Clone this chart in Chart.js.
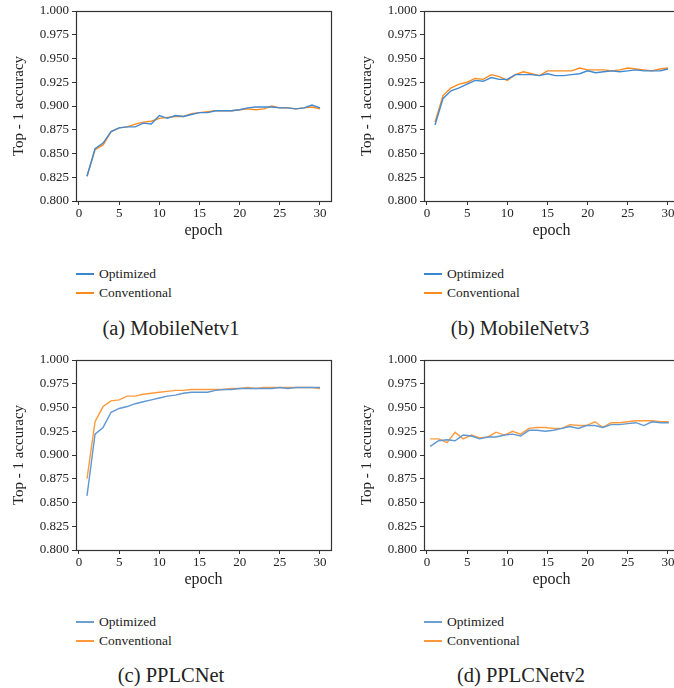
<!DOCTYPE html>
<html>
<head>
<meta charset="utf-8">
<script src="https://cdn.jsdelivr.net/npm/chart.js@4"></script>
<style>
  html, body { margin: 0; padding: 0; background: #fff; }
  body { width: 674px; height: 688px; position: relative; overflow: hidden; font-family: "Liberation Serif", serif; color: #222; }
  .panel { position: absolute; width: 337px; height: 245px; }
  .legend { position: absolute; font-size: 13.5px; line-height: 19px; }
  .legend div { position: relative; padding-left: 23px; white-space: nowrap; }
  .legend span { position: absolute; left: 0; top: 9px; width: 18px; height: 1.5px; }
  .caption { position: absolute; width: 342px; text-align: center; font-size: 20.5px; line-height: 24px; white-space: nowrap; }
</style>
</head>
<body>

<div class="panel" style="left:0;top:0"><canvas id="chart-a" width="337" height="245"></canvas></div>
<div class="panel" style="left:348px;top:0"><canvas id="chart-b" width="337" height="245"></canvas></div>
<div class="panel" style="left:0;top:349px"><canvas id="chart-c" width="337" height="245"></canvas></div>
<div class="panel" style="left:348px;top:349px"><canvas id="chart-d" width="337" height="245"></canvas></div>

<div class="legend" style="left:76px;top:264px"><div><span style="background:#3a86d0"></span>Optimized</div><div><span style="background:#ff8a1c"></span>Conventional</div></div>
<div class="legend" style="left:424px;top:264px"><div><span style="background:#3a86d0"></span>Optimized</div><div><span style="background:#ff8a1c"></span>Conventional</div></div>
<div class="legend" style="left:76px;top:612px"><div><span style="background:#6a9fd0"></span>Optimized</div><div><span style="background:#ff9a3c"></span>Conventional</div></div>
<div class="legend" style="left:424px;top:612px"><div><span style="background:#6a9fd0"></span>Optimized</div><div><span style="background:#ff9a3c"></span>Conventional</div></div>

<div class="caption" style="left:0;top:316px">(a) MobileNetv1</div>
<div class="caption" style="left:349px;top:316px">(b) MobileNetv3</div>
<div class="caption" style="left:0;top:663px">(c) PPLCNet</div>
<div class="caption" style="left:350px;top:663px">(d) PPLCNetv2</div>

<script>
const epochs = [1, 2, 3, 4, 5, 6, 7, 8, 9, 10, 11, 12, 13, 14, 15, 16, 17, 18, 19, 20, 21, 22, 23, 24, 25, 26, 27, 28, 29, 30];
const xTicks = [0, 5, 10, 15, 20, 25, 30];
const yTicks = [0.800, 0.825, 0.850, 0.875, 0.900, 0.925, 0.950, 0.975, 1.000];

// (a) MobileNetv1
const mv1Optimized    = [0.826, 0.855, 0.861, 0.873, 0.877, 0.878, 0.878, 0.882, 0.881, 0.890, 0.887, 0.890, 0.889, 0.891, 0.893, 0.893, 0.895, 0.895, 0.895, 0.896, 0.898, 0.899, 0.899, 0.899, 0.898, 0.898, 0.897, 0.898, 0.901, 0.898];
const mv1Conventional = [0.826, 0.854, 0.859, 0.873, 0.877, 0.878, 0.881, 0.883, 0.884, 0.887, 0.888, 0.889, 0.889, 0.892, 0.893, 0.894, 0.895, 0.895, 0.895, 0.896, 0.897, 0.896, 0.897, 0.900, 0.898, 0.898, 0.897, 0.898, 0.899, 0.897];

// (b) MobileNetv3
const mv3Optimized    = [0.880, 0.908, 0.916, 0.919, 0.923, 0.927, 0.926, 0.930, 0.928, 0.928, 0.933, 0.933, 0.933, 0.932, 0.934, 0.932, 0.932, 0.933, 0.934, 0.937, 0.935, 0.936, 0.937, 0.936, 0.937, 0.938, 0.937, 0.937, 0.937, 0.939];
const mv3Conventional = [0.883, 0.911, 0.919, 0.923, 0.925, 0.929, 0.928, 0.933, 0.931, 0.927, 0.933, 0.936, 0.934, 0.932, 0.937, 0.937, 0.937, 0.937, 0.940, 0.938, 0.938, 0.938, 0.937, 0.938, 0.940, 0.939, 0.938, 0.937, 0.939, 0.940];

// (c) PPLCNet
const lcnetOptimized    = [0.857, 0.922, 0.929, 0.945, 0.949, 0.951, 0.954, 0.956, 0.958, 0.960, 0.962, 0.963, 0.965, 0.966, 0.966, 0.966, 0.968, 0.969, 0.969, 0.970, 0.970, 0.970, 0.970, 0.970, 0.971, 0.970, 0.971, 0.971, 0.971, 0.971];
const lcnetConventional = [0.875, 0.935, 0.951, 0.957, 0.958, 0.962, 0.962, 0.964, 0.965, 0.966, 0.967, 0.968, 0.968, 0.969, 0.969, 0.969, 0.969, 0.969, 0.970, 0.970, 0.971, 0.970, 0.971, 0.971, 0.971, 0.971, 0.971, 0.971, 0.971, 0.970];

// (d) PPLCNetv2 (points sit slightly off the integer epochs in the figure)
const lcnet2Epochs       = [0.4, 1.45, 2.5, 3.5, 4.5, 5.55, 6.55, 7.6, 8.6, 9.65, 10.65, 11.65, 12.7, 13.7, 14.75, 15.75, 16.8, 17.8, 18.85, 19.85, 20.9, 21.9, 22.9, 23.95, 25.0, 26.0, 27.0, 28.0, 29.1, 30.1];
const lcnet2Optimized    = [0.909, 0.915, 0.916, 0.915, 0.921, 0.920, 0.917, 0.919, 0.919, 0.921, 0.922, 0.920, 0.926, 0.926, 0.925, 0.926, 0.928, 0.930, 0.928, 0.931, 0.931, 0.929, 0.932, 0.932, 0.933, 0.934, 0.931, 0.935, 0.934, 0.934];
const lcnet2Conventional = [0.917, 0.917, 0.913, 0.924, 0.917, 0.921, 0.918, 0.919, 0.924, 0.921, 0.925, 0.922, 0.928, 0.929, 0.929, 0.928, 0.928, 0.932, 0.931, 0.931, 0.935, 0.929, 0.934, 0.934, 0.935, 0.936, 0.936, 0.936, 0.935, 0.935];

const SERIF = '"Liberation Serif", "Times New Roman", serif';
Chart.defaults.font.family = SERIF;
Chart.defaults.color = '#222';

const frame = {
    id: 'frame',
    afterDatasetsDraw(chart) {
        const { ctx, chartArea: a } = chart;
        ctx.save();
        ctx.strokeStyle = '#333';
        ctx.lineWidth = 1.2;
        ctx.strokeRect(Math.round(a.left) + 0.5, Math.round(a.top) + 0.5,
                       Math.round(a.right - a.left), Math.round(a.bottom - a.top));
        ctx.restore();
    },
};

const toPoints = (xs, ys) => ys.map((y, i) => ({ x: xs[i], y }));

function makePanel(id, xs, optimized, conventional, blue, orange) {
    new Chart(document.getElementById(id), {
        type: 'line',
        data: {
            datasets: [
                {
                    label: 'Optimized',
                    data: toPoints(xs, optimized),
                    borderColor: blue,
                    borderWidth: 1.4,
                    pointRadius: 0,
                    tension: 0,
                },
                {
                    label: 'Conventional',
                    data: toPoints(xs, conventional),
                    borderColor: orange,
                    borderWidth: 1.4,
                    pointRadius: 0,
                    tension: 0,
                },
            ],
        },
        options: {
            responsive: false,
            animation: false,
            events: [],
            layout: { padding: { top: 11, right: 6, left: 0, bottom: 0 } },
            scales: {
                x: {
                    type: 'linear',
                    min: -0.37,
                    max: 31.37,
                    afterBuildTicks: s => { s.ticks = xTicks.map(v => ({ value: v })); },
                    afterFit: s => { s.height = 44; },
                    ticks: { font: { family: SERIF, size: 13 }, padding: 1, maxRotation: 0, color: '#222' },
                    grid: { drawOnChartArea: false, drawTicks: true, tickLength: 4, color: '#333' },
                    border: { display: false },
                    title: { display: true, text: 'epoch', font: { family: SERIF, size: 16 }, color: '#222', padding: { top: 0, bottom: 5 } },
                },
                y: {
                    min: 0.8,
                    max: 1.0,
                    afterBuildTicks: s => { s.ticks = yTicks.map(v => ({ value: v })); },
                    afterFit: s => { s.width = 76; },
                    ticks: { font: { family: SERIF, size: 13 }, padding: 3, color: '#222', callback: v => v.toFixed(3) },
                    grid: { drawOnChartArea: false, drawTicks: true, tickLength: 4, color: '#333' },
                    border: { display: false },
                    title: { display: true, text: 'Top - 1 accuracy', font: { family: SERIF, size: 15 }, color: '#222', padding: { top: 10, bottom: 0 } },
                },
            },
            plugins: {
                legend: { display: false },
                tooltip: { enabled: false },
            },
        },
        plugins: [frame],
    });
}

makePanel('chart-a', epochs, mv1Optimized, mv1Conventional, '#3f8ad2', '#ff8a1c');
makePanel('chart-b', epochs, mv3Optimized, mv3Conventional, '#3f8ad2', '#ff8a1c');
makePanel('chart-c', epochs, lcnetOptimized, lcnetConventional, '#5f98d2', '#ff9a3c');
makePanel('chart-d', lcnet2Epochs, lcnet2Optimized, lcnet2Conventional, '#5f98d2', '#ff9a3c');
</script>
</body>
</html>
